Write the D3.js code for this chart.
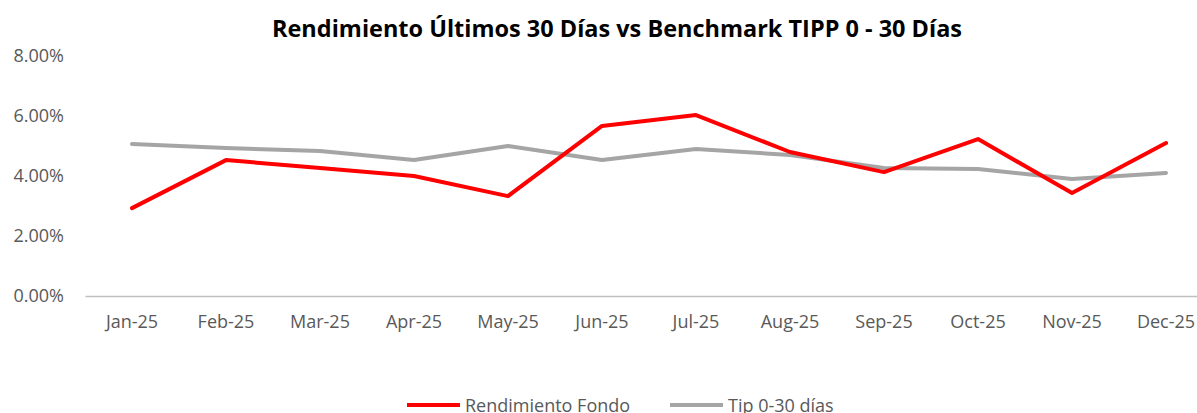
<!DOCTYPE html>
<html>
<head>
<meta charset="utf-8">
<script src="https://cdn.jsdelivr.net/npm/d3@7"></script>
<style>
  body { margin: 0; background: #fff; }
  svg { display: block; }
</style>
</head>
<body>
<div id="chart"></div>
<script>
// chart data
const months = ["Jan-25", "Feb-25", "Mar-25", "Apr-25", "May-25", "Jun-25",
                "Jul-25", "Aug-25", "Sep-25", "Oct-25", "Nov-25", "Dec-25"];
const fondo = [2.93, 4.53, 4.27, 4.00, 3.33, 5.67, 6.03, 4.80, 4.13, 5.23, 3.43, 5.10];
const tipp  = [5.07, 4.93, 4.83, 4.53, 5.00, 4.53, 4.90, 4.70, 4.27, 4.23, 3.90, 4.10];
const yTicks = [0, 2, 4, 6, 8];
const seriesNames = ["Rendimiento Fondo", "Tip 0-30 días"];
const colors = ["#ff0000", "#a5a5a5"];

const width = 1197, height = 413;
const margin = {top: 56, left: 85, bottom: 117};

let svg = d3.select("#chart").append("svg")
    .attr("width", width)
    .attr("height", height);

// scales
let x = d3.scaleBand()
    .domain(months)
    .range([margin.left, margin.left + 94 * months.length]);

let y = d3.scaleLinear()
    .domain([0, 8])
    .range([height - margin.bottom, margin.top]);

// title
svg.append("text")
    .attr("x", 617)
    .attr("y", 37)
    .attr("text-anchor", "middle")
    .attr("font-family", "'Liberation Sans Narrow', 'Open Sans', sans-serif")
    .attr("font-weight", "bold")
    .attr("font-size", 23)
    .attr("textLength", 690)
    .attr("lengthAdjust", "spacingAndGlyphs")
    .attr("fill", "#000")
    .text("Rendimiento Últimos 30 Días vs Benchmark TIPP 0 - 30 Días");

// y axis (labels only)
let yAxis = svg.append("g")
    .attr("transform", `translate(${margin.left},0)`)
    .call(d3.axisLeft(y).tickValues(yTicks).tickSize(0).tickPadding(21)
        .tickFormat(d => d.toFixed(2) + "%"));
yAxis.select(".domain").remove();
yAxis.selectAll("text")
    .attr("font-family", "'Open Sans', sans-serif")
    .attr("font-size", 18)
    .attr("fill", "#595959");

// x axis
let xAxis = svg.append("g")
    .attr("transform", `translate(0,${y(0)})`)
    .call(d3.axisBottom(x).tickSize(0).tickPadding(19));
xAxis.select(".domain")
    .attr("stroke", "#bfbfbf")
    .attr("stroke-width", 1.5);
xAxis.selectAll("text")
    .attr("font-family", "'Open Sans', sans-serif")
    .attr("font-size", 18)
    .attr("fill", "#595959");

// lines
let line = d3.line()
    .x((d, i) => x(months[i]) + x.bandwidth() / 2)
    .y(d => y(d));

[tipp, fondo].forEach((data, k) => {
    svg.append("path")
        .datum(data)
        .attr("fill", "none")
        .attr("stroke", k === 0 ? colors[1] : colors[0])
        .attr("stroke-width", 4)
        .attr("stroke-linejoin", "round")
        .attr("stroke-linecap", "round")
        .attr("d", line);
});

// legend
let legendX = [407, 670];
seriesNames.forEach((name, i) => {
    let g = svg.append("g").attr("transform", `translate(${legendX[i]},405)`);
    g.append("line")
        .attr("x1", 0).attr("x2", 53)
        .attr("stroke", colors[i])
        .attr("stroke-width", 4);
    g.append("text")
        .attr("x", 58)
        .attr("dy", "0.38em")
        .attr("font-family", "'Open Sans', sans-serif")
        .attr("font-size", 18)
        .attr("fill", "#595959")
        .text(name);
});
</script>
</body>
</html>
